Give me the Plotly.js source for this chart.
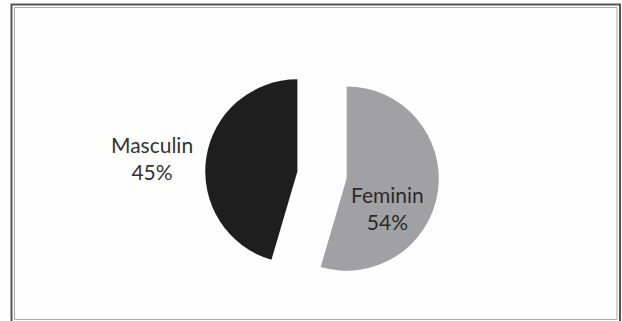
<!DOCTYPE html>
<html>
<head>
<meta charset="utf-8">
<script src="https://cdn.plot.ly/plotly-3.0.1.min.js"></script>
<style>html,body{margin:0;padding:0;background:#fff;}#chart{width:622px;height:321px;}</style>
</head>
<body>
<div id="chart"></div>
<script>
var labels = ["Feminin", "Masculin"];
var values = [54, 45];
var colors = ["#a1a1a3", "#1f1e1f"];
var textPositions = ["none", "outside"];

var W = 622, H = 321;
function px(x){ return x / W; }
function py(y){ return 1 - y / H; }

var fnt = {family: "Lato, 'Open Sans', sans-serif", size: 21, color: "#333"};

var trace = {
  type: "pie",
  labels: labels,
  values: values,
  sort: false,
  direction: "clockwise",
  rotation: 0,
  pull: [0.27, 0.27],
  marker: {colors: colors, line: {width: 0}},
  texttemplate: "%{label}<br>%{value}%",
  textposition: textPositions,
  textfont: fnt,
  outsidetextfont: fnt,
  insidetextfont: fnt,
  hoverinfo: "none",
  showlegend: false,
  domain: {x: [px(122), px(522)], y: [py(292), py(58)]}
};

var layout = {
  width: W, height: H,
  margin: {l: 0, r: 0, t: 0, b: 0},
  paper_bgcolor: "#fefefe",
  showlegend: false,
  annotations: [
    {xref: "paper", yref: "paper", x: px(387), y: py(208), xanchor: "center", yanchor: "middle",
     text: labels[0] + "<br>" + values[0] + "%", showarrow: false, font: {family: "Lato, 'Open Sans', sans-serif", size: 21, color: "#2a2a2a"}}
  ],
  shapes: [
    {type: "rect", xref: "paper", yref: "paper", x0: px(11.5), x1: px(620), y0: py(322), y1: py(4.5), line: {color: "#555", width: 2}},
    {type: "rect", xref: "paper", yref: "paper", x0: px(14.5), x1: px(617), y0: py(319.5), y1: py(7.5), line: {color: "#aaa", width: 1}}
  ]
};

Plotly.newPlot("chart", [trace], layout, {displayModeBar: false, staticPlot: true});
</script>
</body>
</html>
